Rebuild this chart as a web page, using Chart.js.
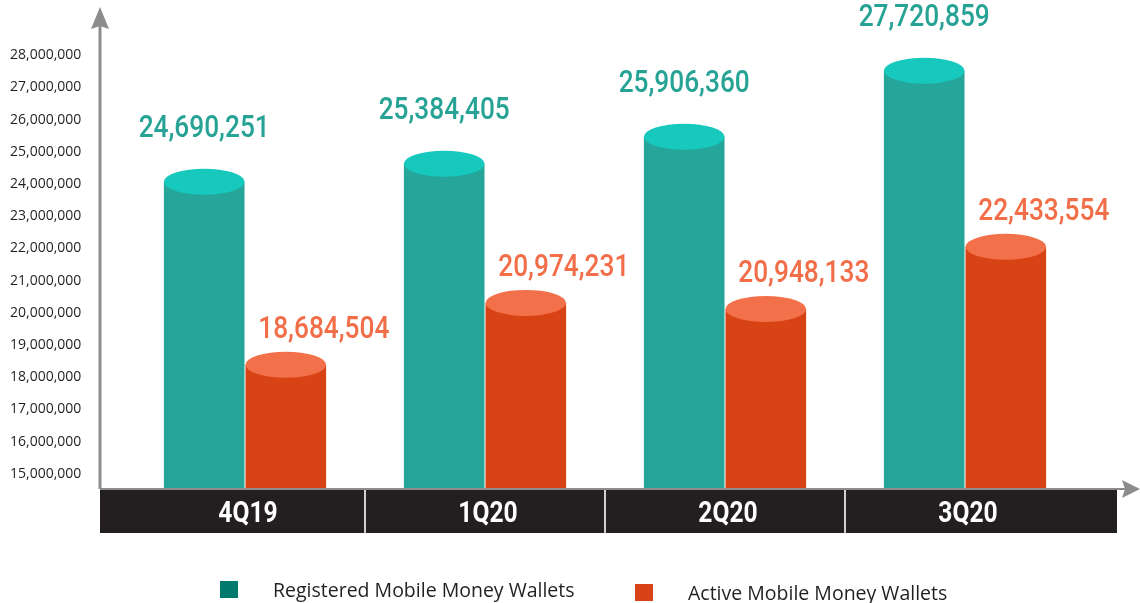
<!DOCTYPE html>
<html>
<head>
<meta charset="utf-8">
<script src="https://cdn.jsdelivr.net/npm/chart.js@4.4.0/dist/chart.umd.min.js"></script>
<style>
    html, body { margin: 0; padding: 0; background: #fff; }
    canvas { display: block; }
</style>
</head>
<body>
<canvas id="myChart" width="1140" height="603"></canvas>
<script>
var quarters = ['4Q19', '1Q20', '2Q20', '3Q20'];
var seriesNames = ['Registered Mobile Money Wallets', 'Active Mobile Money Wallets'];

// numbers printed above the bars
var registeredLabels = [24690251, 25384405, 25906360, 27720859];
var activeLabels = [18684504, 20974231, 20948133, 22433554];

// bar heights as drawn in the picture
var registeredBars = [24070000, 24630000, 25470000, 27520000];
var activeBars = [18390000, 20310000, 20120000, 22050000];

var yTicks = [15000000, 16000000, 17000000, 18000000, 19000000, 20000000, 21000000,
    22000000, 23000000, 24000000, 25000000, 26000000, 27000000, 28000000];

var bodyColors = ['#26a69a', '#d84315'];
var topColors = ['#17c9bd', '#f2714a'];
var labelColors = ['#27a396', '#f26e48'];
var legendColors = ['#007a6c', '#d84315'];

// condensed look: draw Roboto squeezed horizontally
function narrowText(ctx, txt, x, y, font, squeeze) {
    ctx.save();
    ctx.font = font;
    ctx.textAlign = 'center';
    ctx.textBaseline = 'alphabetic';
    ctx.translate(x, y);
    ctx.scale(squeeze, 1);
    ctx.fillText(txt, 0, 0);
    ctx.restore();
}

var cylinderPlugin = {
    id: 'cylinders',
    beforeDraw: function (chart) {
        var ctx = chart.ctx;
        var area = chart.chartArea;
        var xs = chart.scales.x;
        ctx.save();
        // dark band under the axis
        ctx.fillStyle = '#231f20';
        ctx.fillRect(area.left - 25, area.bottom, 1017, 43);
        ctx.strokeStyle = '#d0d0d0';
        ctx.lineWidth = 2;
        for (var i = 1; i < quarters.length; i++) {
            var sx = (xs.getPixelForValue(i - 1) + xs.getPixelForValue(i)) / 2;
            ctx.beginPath();
            ctx.moveTo(sx, area.bottom);
            ctx.lineTo(sx, area.bottom + 43);
            ctx.stroke();
        }
        ctx.fillStyle = '#ffffff';
        for (var j = 0; j < quarters.length; j++) {
            narrowText(ctx, quarters[j], xs.getPixelForValue(j) + 3, area.bottom + 32,
                'bold 30px Roboto', 0.82);
        }
        ctx.restore();
    },
    afterDatasetsDraw: function (chart) {
        var ctx = chart.ctx;
        var labelSets = [registeredLabels, activeLabels];
        ctx.save();
        chart.data.datasets.forEach(function (ds, d) {
            var meta = chart.getDatasetMeta(d);
            meta.data.forEach(function (bar, i) {
                ctx.fillStyle = topColors[d];
                ctx.beginPath();
                ctx.ellipse(bar.x, bar.y, bar.width / 2, 13, 0, 0, Math.PI * 2);
                ctx.fill();

                ctx.fillStyle = labelColors[d];
                var txt = labelSets[d][i].toLocaleString('en-US');
                if (d === 0) {
                    narrowText(ctx, txt, bar.x, bar.y - 45, '500 32px Roboto', 0.82);
                } else {
                    narrowText(ctx, txt, bar.x + 38, bar.y - 27, '500 32px Roboto', 0.82);
                }
            });
        });
        ctx.restore();
    },
    afterDraw: function (chart) {
        var ctx = chart.ctx;
        var area = chart.chartArea;
        var ax = area.left - 25;
        var ay = area.bottom - 1;
        ctx.save();
        ctx.strokeStyle = '#8c8c8c';
        ctx.fillStyle = '#8c8c8c';
        ctx.lineWidth = 3;
        // y axis with arrow
        ctx.beginPath();
        ctx.moveTo(ax, ay);
        ctx.lineTo(ax, 24);
        ctx.stroke();
        ctx.beginPath();
        ctx.moveTo(ax, 7);
        ctx.lineTo(ax - 9, 29);
        ctx.lineTo(ax, 26);
        ctx.lineTo(ax + 9, 29);
        ctx.closePath();
        ctx.fill();
        // x axis with arrow
        ctx.lineWidth = 2;
        ctx.beginPath();
        ctx.moveTo(ax, ay);
        ctx.lineTo(1126, ay);
        ctx.stroke();
        ctx.beginPath();
        ctx.moveTo(1140, ay);
        ctx.lineTo(1122, ay - 9);
        ctx.lineTo(1125, ay);
        ctx.lineTo(1122, ay + 9);
        ctx.closePath();
        ctx.fill();

        // legend
        var legendX = [220, 635];
        var legendY = [581, 584];
        ctx.font = '19.5px "Open Sans"';
        ctx.textAlign = 'left';
        ctx.textBaseline = 'alphabetic';
        for (var k = 0; k < seriesNames.length; k++) {
            ctx.fillStyle = legendColors[k];
            ctx.fillRect(legendX[k], legendY[k], 18, 17);
            ctx.fillStyle = '#231f20';
            ctx.fillText(seriesNames[k], legendX[k] + 53, legendY[k] + 16);
        }
        ctx.restore();
    }
};

var ctx = document.getElementById('myChart').getContext('2d');
var myChart = new Chart(ctx, {
    type: 'bar',
    data: {
        labels: quarters,
        datasets: [{
            label: seriesNames[0],
            data: registeredBars,
            backgroundColor: bodyColors[0]
        }, {
            label: seriesNames[1],
            data: activeBars,
            backgroundColor: bodyColors[1]
        }]
    },
    options: {
        responsive: false,
        animation: false,
        categoryPercentage: 0.68,
        barPercentage: 0.988,
        layout: {
            padding: { left: 10, right: 55, top: 23, bottom: 0 }
        },
        plugins: {
            legend: { display: false },
            tooltip: { enabled: false }
        },
        scales: {
            x: {
                grid: { display: false, drawTicks: false },
                border: { display: false },
                afterFit: function (scale) { scale.height = 113; },
                ticks: { display: false }
            },
            y: {
                min: 14500000,
                max: 29000000,
                grid: { display: false, drawTicks: false },
                border: { display: false },
                afterFit: function (scale) { scale.width = 115; },
                afterBuildTicks: function (scale) {
                    scale.ticks = yTicks.map(function (v) { return { value: v }; });
                },
                ticks: {
                    color: '#231f20',
                    padding: 2,
                    crossAlign: 'far',
                    font: { family: 'Open Sans', size: 14 },
                    callback: function (v) { return Number(v).toLocaleString('en-US'); }
                }
            }
        }
    },
    plugins: [cylinderPlugin]
});
</script>
</body>
</html>
